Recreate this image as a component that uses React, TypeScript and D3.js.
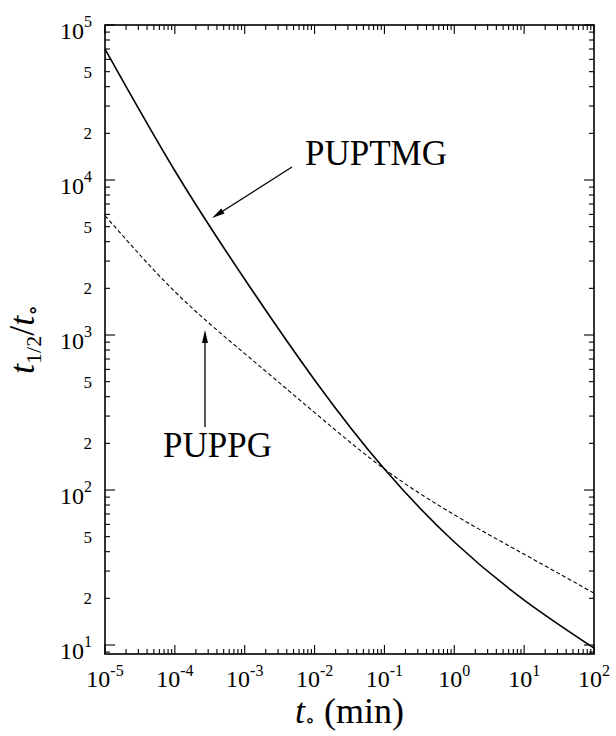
import * as d3 from "d3";

// half-life ratio t1/2/t0 read at each decade of t0 (min)
const t0 = [1e-5, 1e-4, 1e-3, 1e-2, 1e-1, 1e0, 1e1, 1e2];
const puptmg = [70000, 11480, 2290, 513, 136.5, 46.2, 19.5, 9.55];
const puppg = [5890, 1905, 759, 316, 136.5, 69.2, 38.5, 21.6];

const xExps = [-5, -4, -3, -2, -1, 0, 1, 2];
const yExps = [1, 2, 3, 4, 5];
const yMinorLabels = [2, 5];

// annotations, in data units
const tmgArrow = { from: [4.75e-3, 12130], to: [3.4e-4, 5690] };
const tmgText = { at: [7.3e-3, 12500], label: "PUPTMG" };
const ppgArrow = { from: [2.7e-4, 255], to: [2.7e-4, 1077] };
const ppgText = { at: [4.07e-4, 163], label: "PUPPG" };

const W = 616;
const H = 736;
const left = 105, right = 594, top = 25, bottom = 654;
const FONT = "Liberation Serif, DejaVu Serif, serif";

const App = () => {
  const x = d3.scaleLog().domain([1e-5, 1e2]).range([left, right]);
  const y = d3.scaleLog().domain([8.75, 1e5]).range([bottom, top]);

  const line = d3
    .line<number>()
    .x((_, i) => x(t0[i]))
    .y((d) => y(d))
    .curve(d3.curveNatural);

  // ticks on all four sides, pointing in
  const ticks: JSX.Element[] = [];
  for (let e = -5; e <= 2; e++) {
    for (let m = 1; m <= 9; m++) {
      const v = m * Math.pow(10, e);
      if (v > 1e2 + 1e-9) continue;
      const px = x(v);
      const len = m === 1 ? 9 : 5;
      ticks.push(<line key={`xb${e}${m}`} x1={px} x2={px} y1={bottom} y2={bottom - len} />);
      ticks.push(<line key={`xt${e}${m}`} x1={px} x2={px} y1={top} y2={top + len} />);
    }
  }
  for (let e = 0; e <= 5; e++) {
    for (let m = 1; m <= 9; m++) {
      const v = m * Math.pow(10, e);
      if (v > 1e5 + 1e-9 || v < 8.75) continue;
      const py = y(v);
      const len = m === 1 ? 10 : 5;
      ticks.push(<line key={`yl${e}${m}`} x1={left} x2={left + len} y1={py} y2={py} />);
      ticks.push(<line key={`yr${e}${m}`} x1={right} x2={right - len} y1={py} y2={py} />);
    }
  }

  const arrowPts = (a: { from: number[]; to: number[] }) => {
    const x1 = x(a.from[0]), y1 = y(a.from[1]);
    const x2 = x(a.to[0]), y2 = y(a.to[1]);
    const ang = Math.atan2(y2 - y1, x2 - x1);
    const L = 13, Wd = 3;
    const bx = x2 - L * Math.cos(ang), by = y2 - L * Math.sin(ang);
    const head = [
      [x2, y2],
      [bx + Wd * Math.sin(ang), by - Wd * Math.cos(ang)],
      [bx - Wd * Math.sin(ang), by + Wd * Math.cos(ang)],
    ];
    return { x1, y1, bx, by, head: head.map((p) => p.join(",")).join(" ") };
  };
  const a1 = arrowPts(tmgArrow);
  const a2 = arrowPts(ppgArrow);

  return (
    <svg width={W} height={H} style={{ position: "absolute", left: 0, top: 0, background: "#fff", fontFamily: FONT }}>
      <rect x={left} y={top} width={right - left} height={bottom - top} fill="none" stroke="#000" strokeWidth={1.6} />
      <g stroke="#000" strokeWidth={1.1}>{ticks}</g>

      <path d={line(puptmg) || ""} fill="none" stroke="#000" strokeWidth={1.6} />
      <path d={line(puppg) || ""} fill="none" stroke="#000" strokeWidth={1.1} strokeDasharray="4,2.5" />

      {xExps.map((e) => (
        <text key={`xl${e}`} x={x(Math.pow(10, e))} y={687} textAnchor="middle" fontSize={24}>
          10<tspan dy={-11} fontSize={16}>{e}</tspan>
        </text>
      ))}
      {yExps.map((e) => (
        <text key={`yl${e}`} x={92} y={y(Math.pow(10, e)) + 14} textAnchor="end" fontSize={24}>
          10<tspan dy={-12} fontSize={16}>{e}</tspan>
        </text>
      ))}
      {yExps.slice(0, 4).flatMap((e) =>
        yMinorLabels.map((m) => (
          <text key={`ym${e}${m}`} x={92} y={y(m * Math.pow(10, e)) + 6} textAnchor="end" fontSize={17}>
            {m}
          </text>
        ))
      )}

      <text x={(left + right) / 2} y={723} textAnchor="middle" fontSize={36}>
        <tspan fontStyle="italic">t</tspan>
        <tspan dy={4} fontSize={20}>∘</tspan>
        <tspan dy={-4}> (min)</tspan>
      </text>
      <text transform={`translate(34,${(top + bottom) / 2}) rotate(-90)`} textAnchor="middle" fontSize={36}>
        <tspan fontStyle="italic">t</tspan>
        <tspan dy={7} fontSize={22}>1/2</tspan>
        <tspan dy={-7}>/</tspan>
        <tspan fontStyle="italic">t</tspan>
        <tspan dy={6} fontSize={22}>∘</tspan>
      </text>

      <g stroke="#000" strokeWidth={1.3}>
        <line x1={a1.x1} y1={a1.y1} x2={a1.bx} y2={a1.by} />
        <line x1={a2.x1} y1={a2.y1} x2={a2.bx} y2={a2.by} />
      </g>
      <polygon points={a1.head} fill="#000" />
      <polygon points={a2.head} fill="#000" />
      <text x={x(tmgText.at[0])} y={y(tmgText.at[1])} fontSize={35}>{tmgText.label}</text>
      <text x={x(ppgText.at[0])} y={y(ppgText.at[1])} textAnchor="middle" fontSize={35}>{ppgText.label}</text>
    </svg>
  );
};

export default App;
